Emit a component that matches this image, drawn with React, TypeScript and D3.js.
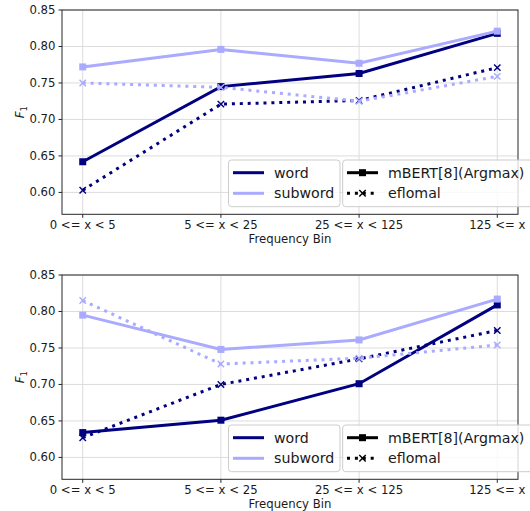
import React from "react";
import * as d3 from "d3";

const categories = ["0 <= x < 5", "5 <= x < 25", "25 <= x < 125", "125 <= x"];
const yTicks = [0.6, 0.65, 0.7, 0.75, 0.8, 0.85];

const topWordMbert = [0.642, 0.745, 0.763, 0.818];
const topSubwordMbert = [0.772, 0.796, 0.777, 0.821];
const topWordEflomal = [0.603, 0.721, 0.726, 0.771];
const topSubwordEflomal = [0.75, 0.744, 0.725, 0.759];

const botWordMbert = [0.634, 0.651, 0.701, 0.809];
const botSubwordMbert = [0.795, 0.748, 0.761, 0.817];
const botWordEflomal = [0.627, 0.7, 0.735, 0.774];
const botSubwordEflomal = [0.815, 0.728, 0.736, 0.754];

const DARK = "#000080";
const LIGHT = "#aaaaff";
const FONT = "DejaVu Sans, sans-serif";
const TICK_FS = 11.7;
const LEG_FS = 14.2;

type Series = { values: number[]; color: string; dotted: boolean };

function Square({ cx, cy, color, s = 7 }: { cx: number; cy: number; color: string; s?: number }) {
  return <rect x={cx - s / 2} y={cy - s / 2} width={s} height={s} fill={color} />;
}
function XMark({ cx, cy, color, s = 3.2 }: { cx: number; cy: number; color: string; s?: number }) {
  return (
    <path
      d={`M${cx - s},${cy - s}L${cx + s},${cy + s}M${cx - s},${cy + s}L${cx + s},${cy - s}`}
      stroke={color}
      strokeWidth={1.4}
      fill="none"
    />
  );
}

function Panel({ top, series }: { top: number; series: Series[] }) {
  const left = 62;
  const right = 518;
  const bottom = top + 204.3;
  const x = d3.scaleLinear().domain([-0.15, 3.15]).range([left, right]);
  const y = d3.scaleLinear().domain([0.57, 0.85]).range([bottom, top]);
  const line = d3
    .line<number>()
    .x((_, i) => x(i))
    .y((v) => y(v));
  const legTop = top + 150;
  return (
    <g>
      {yTicks.map((t) => (
        <line key={"gy" + t} x1={left} x2={right} y1={y(t)} y2={y(t)} stroke="#dcdcdc" strokeWidth={1} />
      ))}
      {categories.map((c, i) => (
        <line key={"gx" + c} x1={x(i)} x2={x(i)} y1={top} y2={bottom} stroke="#dcdcdc" strokeWidth={1} />
      ))}
      {series.map((s, k) => (
        <g key={"s" + k}>
          <path
            d={line(s.values) || ""}
            fill="none"
            stroke={s.color}
            strokeWidth={3}
            strokeDasharray={s.dotted ? "3,4.9" : undefined}
          />
          {s.values.map((v, i) =>
            s.dotted ? (
              <XMark key={i} cx={x(i)} cy={y(v)} color={s.color} />
            ) : (
              <Square key={i} cx={x(i)} cy={y(v)} color={s.color} />
            )
          )}
        </g>
      ))}
      <rect x={left} y={top} width={right - left} height={bottom - top} fill="none" stroke="#262626" strokeWidth={1} />
      {yTicks.map((t) => (
        <g key={"yt" + t}>
          <line x1={left - 3.5} x2={left} y1={y(t)} y2={y(t)} stroke="#262626" />
          <text x={left - 6.5} y={y(t)} textAnchor="end" dominantBaseline="central" fontSize={TICK_FS} fontFamily={FONT} fill="#1a1a1a">
            {t.toFixed(2)}
          </text>
        </g>
      ))}
      {categories.map((c, i) => (
        <g key={"xt" + c}>
          <line x1={x(i)} x2={x(i)} y1={bottom} y2={bottom + 3.5} stroke="#262626" />
          <text x={x(i)} y={bottom + 15} textAnchor="middle" fontSize={TICK_FS} fontFamily={FONT} fill="#1a1a1a">
            {c}
          </text>
        </g>
      ))}
      <text x={(left + right) / 2} y={bottom + 29} textAnchor="middle" fontSize={TICK_FS} fontFamily={FONT} fill="#1a1a1a">
        Frequency Bin
      </text>
      <text
        transform={`translate(${24},${(top + bottom) / 2}) rotate(-90)`}
        textAnchor="middle"
        fontSize={12}
        fontFamily={FONT}
        fill="#1a1a1a"
      >
        <tspan fontStyle="italic">F</tspan>
        <tspan fontSize={8.5} dy={3}>1</tspan>
      </text>
      <rect x={228.5} y={legTop} width={111.5} height={46.7} rx={3} fill="white" fillOpacity={0.8} stroke="#cccccc" />
      <line x1={233} x2={264} y1={legTop + 12.7} y2={legTop + 12.7} stroke={DARK} strokeWidth={3} />
      <line x1={233} x2={264} y1={legTop + 33.3} y2={legTop + 33.3} stroke={LIGHT} strokeWidth={3} />
      <text x={274} y={legTop + 12.7} dominantBaseline="central" fontSize={LEG_FS} fontFamily={FONT} fill="#1a1a1a">
        word
      </text>
      <text x={274} y={legTop + 33.3} dominantBaseline="central" fontSize={LEG_FS} fontFamily={FONT} fill="#1a1a1a">
        subword
      </text>
      <rect x={342.7} y={legTop} width={200} height={46.7} rx={3} fill="white" fillOpacity={0.8} stroke="#cccccc" />
      <line x1={347} x2={378} y1={legTop + 12.7} y2={legTop + 12.7} stroke="black" strokeWidth={3} />
      <Square cx={362.5} cy={legTop + 12.7} color="black" />
      <line x1={347} x2={378} y1={legTop + 33.3} y2={legTop + 33.3} stroke="black" strokeWidth={3} strokeDasharray="3,4.9" />
      <XMark cx={362.5} cy={legTop + 33.3} color="black" />
      <text x={388} y={legTop + 12.7} dominantBaseline="central" fontSize={LEG_FS} fontFamily={FONT} fill="#1a1a1a">
        mBERT[8](Argmax)
      </text>
      <text x={388} y={legTop + 33.3} dominantBaseline="central" fontSize={LEG_FS} fontFamily={FONT} fill="#1a1a1a">
        eflomal
      </text>
    </g>
  );
}

export default function App() {
  const topSeries: Series[] = [
    { values: topWordMbert, color: DARK, dotted: false },
    { values: topSubwordMbert, color: LIGHT, dotted: false },
    { values: topWordEflomal, color: DARK, dotted: true },
    { values: topSubwordEflomal, color: LIGHT, dotted: true },
  ];
  const botSeries: Series[] = [
    { values: botWordMbert, color: DARK, dotted: false },
    { values: botSubwordMbert, color: LIGHT, dotted: false },
    { values: botWordEflomal, color: DARK, dotted: true },
    { values: botSubwordEflomal, color: LIGHT, dotted: true },
  ];
  return (
    <svg
      width={530}
      height={511}
      style={{ position: "absolute", left: 0, top: 0, background: "white" }}
    >
      <rect width={530} height={511} fill="white" />
      <Panel top={10} series={topSeries} />
      <Panel top={275} series={botSeries} />
    </svg>
  );
}
